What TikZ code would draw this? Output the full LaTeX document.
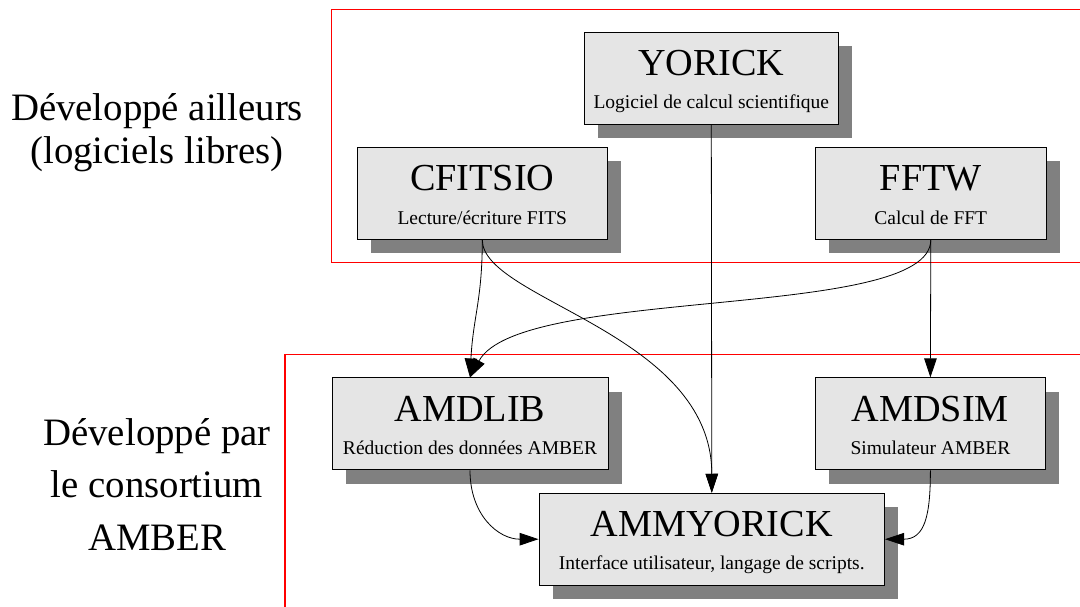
\documentclass[tikz,border=0pt]{standalone}
\usepackage{fontspec}
\setmainfont{Liberation Serif}
\usetikzlibrary{arrows.meta,positioning,shadows}

\newcommand{\soustitre}{\fontsize{19.5}{23}\selectfont}

\begin{document}
\begin{tikzpicture}[x=1pt, y=-1pt,
    pkg/.style={rectangle, draw, line width=0.9pt, fill=black!10, minimum height=92pt, align=center, inner sep=4pt,
        font=\fontsize{38.2}{33.3}\selectfont, text height=66.4pt, text depth=5pt,
        drop shadow={shadow xshift=13.5pt, shadow yshift=-14pt, fill=black!50, opacity=1}},
    zone/.style={draw=red, line width=1.1pt},
    groupe/.style={align=center, anchor=base},
    ar/.style={line width=0.8pt, -{Triangle[length=19pt, width=12.5pt]}}]
    \useasboundingbox (0,0) rectangle (1080,607);
    \draw [zone] (331.7,9.3) -- (1080,9.3) (331.7,9.3) -- (331.7,262.7) -- (1080,262.7);
    \draw [zone] (1080,354.7) -- (285,354.7) -- (285,607);
    \node [groupe, font=\fontsize{38.8}{43}\selectfont] (ailleurs) at (157,164) {Développé ailleurs\\(logiciels libres)};
    \node [groupe, font=\fontsize{38.8}{52.5}\selectfont] (consortium) at (157,550) {Développé par\\le consortium\\AMBER};
    \node [pkg, minimum width=253.5pt] (yorick) at (711.3,78.2) {YORICK\\{\soustitre Logiciel de calcul scientifique}};
    \node [pkg, minimum width=250.5pt] (cfitsio) at (482.3,193.4) {CFITSIO\\{\soustitre Lecture/écriture FITS}};
    \node [pkg, minimum width=230.5pt] (fftw) at (930.8,193.4) {FFTW\\{\soustitre Calcul de FFT}};
    \node [pkg, minimum width=276pt] (amdlib) at (470,423.9) {AMDLIB\\{\soustitre Réduction des données AMBER}};
    \node [pkg, minimum width=229.5pt] (amdsim) at (930.4,423.9) {AMDSIM\\{\soustitre Simulateur AMBER}};
    \node [pkg, minimum width=345.5pt] (ammyorick) at (711.8,539.2) {AMMYORICK\\{\soustitre Interface utilisateur, langage de scripts.}};
    \draw [ar] (yorick.south) -- (ammyorick.north);
    \draw [ar] (cfitsio.south) .. controls +(0,60) and +(3,-60) .. (amdlib.north);
    \draw [ar] (cfitsio.south) .. controls +(0,60) and +(0,-160) .. (ammyorick.north);
    \draw [ar] (fftw.south) .. controls +(0,81) and +(50,-92) .. (amdlib.north);
    \draw [ar] (fftw.south) -- (amdsim.north);
    \draw [ar] (amdlib.south) .. controls +(0,45) and +(-40,0) .. (ammyorick.west);
    \draw [ar] (amdsim.south) .. controls +(0,45) and +(40,0) .. (ammyorick.east);
\end{tikzpicture}
\end{document}
